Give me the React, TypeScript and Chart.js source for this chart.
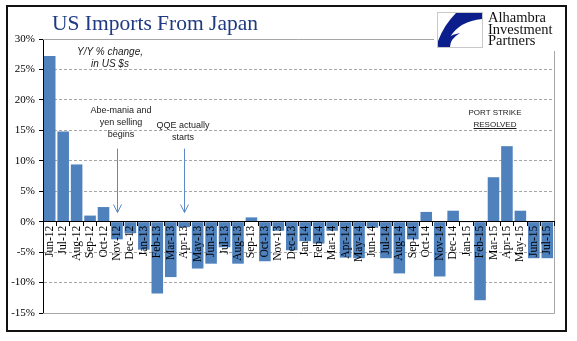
import React, { useEffect, useRef } from "react";
import { Chart, registerables } from "chart.js";

Chart.register(...registerables);

const categories = [
  "Jun-12", "Jul-12", "Aug-12", "Sep-12", "Oct-12", "Nov-12", "Dec-12",
  "Jan-13", "Feb-13", "Mar-13", "Apr-13", "May-13", "Jun-13", "Jul-13", "Aug-13", "Sep-13", "Oct-13", "Nov-13", "Dec-13",
  "Jan-14", "Feb-14", "Mar-14", "Apr-14", "May-14", "Jun-14", "Jul-14", "Aug-14", "Sep-14", "Oct-14", "Nov-14", "Dec-14",
  "Jan-15", "Feb-15", "Mar-15", "Apr-15", "May-15", "Jun-15", "Jul-15",
];

const yoyChange = [
  27.2, 14.8, 9.4, 1.0, 2.4, -2.9, -1.9,
  -4.6, -11.8, -9.1, -0.9, -7.7, -6.9, -4.2, -6.9, 0.7, -6.5, -1.5, -4.7,
  -3.2, -3.6, -1.5, -5.9, -6.0, -1.0, -6.0, -8.5, -2.9, 1.6, -9.0, 1.8,
  -0.1, -12.9, 7.3, 12.4, 1.8, -6.0, -6.0,
];

const yMin = -15;
const yMax = 30;
const yStep = 5;

const arrowCategories = ["Nov-12", "Apr-13"];
const arrowFromValue = 12;
const arrowToValue = 1.5;

const BAR_COLOR = "#4F81BD";

export default function App() {
  const ref = useRef<HTMLCanvasElement>(null);

  useEffect(() => {
    if (!ref.current) return;

    const framePlugin = {
      id: "framePlugin",
      beforeDatasetsDraw(chart: any) {
        const { ctx, chartArea, scales } = chart;
        const y = scales.y;
        const top = Math.round(y.getPixelForValue(yMax)) + 0.5;
        const bot = Math.round(y.getPixelForValue(yMin)) + 0.5;
        const right = Math.round(chartArea.right) + 0.5;
        const left = Math.round(chartArea.left);
        ctx.save();
        ctx.strokeStyle = "#A6A6A6";
        ctx.lineWidth = 1;
        ctx.beginPath();
        ctx.moveTo(left, top);
        ctx.lineTo(right, top);
        ctx.lineTo(right, bot);
        ctx.lineTo(left, bot);
        ctx.stroke();
        ctx.restore();
      },
      afterDraw(chart: any) {
        const { ctx, scales } = chart;
        const x = scales.x;
        const y = scales.y;
        ctx.save();
        ctx.strokeStyle = "#5B8AC6";
        ctx.lineWidth = 1;
        arrowCategories.forEach((c) => {
          const idx = categories.indexOf(c);
          const px = Math.round(x.getPixelForValue(idx)) + 0.5;
          const y1 = y.getPixelForValue(arrowFromValue);
          const y2 = y.getPixelForValue(arrowToValue);
          ctx.beginPath();
          ctx.moveTo(px, y1);
          ctx.lineTo(px, y2);
          ctx.moveTo(px - 4, y2 - 8);
          ctx.lineTo(px, y2);
          ctx.lineTo(px + 4, y2 - 8);
          ctx.stroke();
        });
        ctx.restore();
      },
    };

    const chart = new Chart(ref.current, {
      type: "bar",
      data: {
        labels: categories,
        datasets: [
          {
            data: yoyChange,
            backgroundColor: BAR_COLOR,
            borderWidth: 0,
            categoryPercentage: 1,
            barPercentage: 0.86,
          },
        ],
      },
      options: {
        animation: false,
        responsive: false,
        devicePixelRatio: 1,
        layout: { padding: { left: 0, top: 39, right: 23, bottom: 28 } },
        plugins: {
          legend: { display: false },
          tooltip: { enabled: false },
          title: { display: false },
        },
        scales: {
          x: {
            position: { y: 0 } as any,
            grid: {
              drawOnChartArea: false,
              drawTicks: true,
              tickLength: 4,
              tickColor: "#000",
              offset: true,
              z: 1,
            },
            border: { display: true, color: "#000", width: 1, z: 1 },
            ticks: {
              autoSkip: false,
              minRotation: 90,
              maxRotation: 90,
              padding: 0,
              color: "#000",
              z: 1,
              font: { family: "Liberation Serif", size: 11.5 },
            },
          },
          y: {
            min: yMin,
            max: yMax,
            afterFit(scale: any) {
              scale.width = 43;
            },
            ticks: {
              stepSize: yStep,
              callback: (v: any) => v + "%",
              color: "#000",
              padding: 4,
              font: { family: "Liberation Serif", size: 11 },
            },
            grid: {
              color: (ctx: any) =>
                ctx.tick && (ctx.tick.value === 0 || ctx.tick.value === yMax || ctx.tick.value === yMin)
                  ? "rgba(0,0,0,0)"
                  : "#A6A6A6",
              lineWidth: 1,
              tickColor: "#000",
              tickLength: 4,
            },
            border: { display: true, color: "#000", width: 1, dash: [3, 2] },
          },
        },
      },
      plugins: [framePlugin],
    });

    return () => chart.destroy();
  }, []);

  const annot: React.CSSProperties = {
    position: "absolute",
    fontFamily: "Liberation Sans, Arial, sans-serif",
    fontSize: "9px",
    lineHeight: "12px",
    color: "#1a1a1a",
    textAlign: "center",
    width: "110px",
    whiteSpace: "nowrap",
  };

  return (
    <div
      style={{
        position: "absolute",
        left: 0,
        top: 0,
        width: 577,
        height: 341,
        background: "#fff",
        overflow: "hidden",
      }}
    >
      <canvas ref={ref} width={577} height={341} style={{ position: "absolute", left: 0, top: 0 }} />
      <div
        style={{
          position: "absolute",
          left: 6,
          top: 5,
          width: 557,
          height: 323,
          border: "2px solid #111",
          pointerEvents: "none",
        }}
      />
      <div
        style={{
          position: "absolute",
          left: 52,
          top: 10,
          fontFamily: "Liberation Serif, serif",
          fontSize: "21.5px",
          lineHeight: "26px",
          color: "#1F3A80",
          whiteSpace: "nowrap",
        }}
      >
        US Imports From Japan
      </div>
      {/* logo */}
      <div style={{ position: "absolute", left: 434, top: 8, width: 128, height: 43, background: "#fff" }} />
      <div
        style={{
          position: "absolute",
          left: 437,
          top: 12,
          width: 44,
          height: 34,
          border: "1px solid #c8c8c8",
          background: "#fff",
          overflow: "hidden",
        }}
      >
        <svg width="44" height="34" viewBox="0 0 44 34">
          <path d="M18 0 L44 0 L44 6 Q22 8 12 24 L0 34 L0 28 Q6 12 18 0 Z" fill="#0B1E8C" />
          <path d="M0 34 Q8 22 22 20 Q12 26 12 34 Z" fill="#0B1E8C" />
        </svg>
      </div>
      <div
        style={{
          position: "absolute",
          left: 488,
          top: 12,
          fontFamily: "Liberation Serif, serif",
          fontSize: "14.5px",
          lineHeight: "11.5px",
          color: "#111",
          whiteSpace: "nowrap",
        }}
      >
        <div>Alhambra</div>
        <div>Investment</div>
        <div>Partners</div>
      </div>
      {/* annotations */}
      <div style={{ ...annot, left: 110 - 55, top: 46, fontStyle: "italic", fontSize: "10px" }}>
        <div>Y/Y % change,</div>
        <div>in US $s</div>
      </div>
      <div style={{ ...annot, left: 121 - 55, top: 104 }}>
        <div>Abe-mania and</div>
        <div>yen selling</div>
        <div>begins</div>
      </div>
      <div style={{ ...annot, left: 183 - 55, top: 119 }}>
        <div>QQE actually</div>
        <div>starts</div>
      </div>
      <div style={{ ...annot, left: 495 - 55, top: 107, fontSize: "8px", lineHeight: "11.5px" }}>
        <div>PORT STRIKE</div>
        <div style={{ textDecoration: "underline" }}>RESOLVED</div>
      </div>
    </div>
  );
}
